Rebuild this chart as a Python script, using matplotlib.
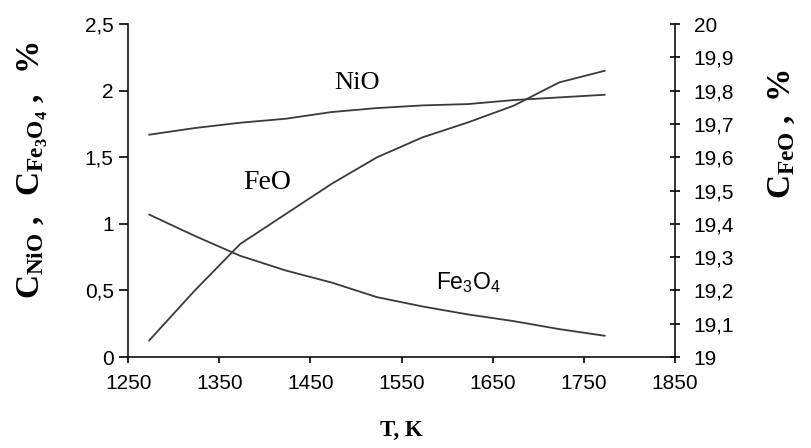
import numpy as np
import matplotlib
matplotlib.use('Agg')
import matplotlib.pyplot as plt

plt.rcParams['font.family'] = ['Liberation Sans', 'DejaVu Sans']
plt.rcParams['mathtext.fontset'] = 'custom'
plt.rcParams['mathtext.rm'] = 'Liberation Serif:bold'
plt.rcParams['mathtext.it'] = 'Liberation Serif:bold'
plt.rcParams['mathtext.bf'] = 'Liberation Serif:bold'
plt.rcParams['mathtext.sf'] = 'Liberation Sans'

# температура, K
T = [1273, 1323, 1373, 1423, 1473, 1523, 1573, 1623, 1673, 1723, 1773]
# левая ось, %
c_nio = [1.67, 1.72, 1.76, 1.79, 1.84, 1.87, 1.89, 1.90, 1.93, 1.95, 1.97]
c_fe3o4 = [1.07, 0.91, 0.76, 0.65, 0.56, 0.45, 0.38, 0.32, 0.27, 0.21, 0.16]
# правая ось, %
c_feo = [19.05, 19.20, 19.34, 19.43, 19.52, 19.60, 19.66, 19.705, 19.755, 19.825, 19.86]

x_ticks = [1250, 1350, 1450, 1550, 1650, 1750, 1850]
left_ticks = [0, 0.5, 1, 1.5, 2, 2.5]
left_labels = ['0', '0,5', '1', '1,5', '2', '2,5']
right_ticks = [19, 19.1, 19.2, 19.3, 19.4, 19.5, 19.6, 19.7, 19.8, 19.9, 20]
right_labels = ['19', '19,1', '19,2', '19,3', '19,4', '19,5', '19,6', '19,7', '19,8', '19,9', '20']

line_col = '#3a3a3a'

fig = plt.figure(figsize=(8.12, 4.48), dpi=100)
ax = fig.add_axes([0.158, 0.203, 0.673, 0.743])
ax2 = ax.twinx()

ax.plot(T, c_nio, color=line_col, lw=1.3)
ax.plot(T, c_fe3o4, color=line_col, lw=1.3)
ax2.plot(T, c_feo, color=line_col, lw=1.3)

ax.set_xlim(1250, 1850)
ax.set_ylim(0, 2.5)
ax2.set_ylim(19, 20)
ax.set_xticks(x_ticks)
ax.set_yticks(left_ticks)
ax.set_yticklabels(left_labels)
ax2.set_yticks(right_ticks)
ax2.set_yticklabels(right_labels)

for a in (ax, ax2):
    a.spines['top'].set_visible(False)
    for s in a.spines.values():
        s.set_linewidth(1.2)
        s.set_color('#111111')
ax.spines['right'].set_visible(False)
ax2.spines['left'].set_visible(False)
ax2.spines['bottom'].set_visible(False)

ax.tick_params(axis='y', direction='out', length=6.5, width=1.2, pad=4, labelsize=15)
ax.tick_params(axis='x', direction='out', length=4.5, width=1.2, pad=8, labelsize=15)
ax2.tick_params(axis='y', direction='inout', length=7, width=1.2, pad=10, labelsize=15)

ax.text(1501, 2.06, 'NiO', family='Liberation Serif', fontsize=19, ha='center', va='center')
ax.text(1402, 1.31, 'FeO', family='Liberation Serif', fontsize=20, ha='center', va='center')
ax.text(1623, 0.56, r'$\mathsf{Fe}_\mathsf{3}\mathsf{O}_\mathsf{4}$', fontsize=16.5, ha='center', va='center')

fig.text(0.494, 0.04, 'T, K', family='Liberation Serif', weight='bold',
         fontsize=16.5, ha='center', va='center')
fig.text(0.04, 0.62, r'$C_{NiO}\;,\;\; C_{Fe_3O_4}\;,\;\; \%$', fontsize=24,
         rotation=90, ha='center', va='center')
fig.text(0.963, 0.70, r'$C_{FeO}\;,\;\%$', fontsize=24,
         rotation=90, ha='center', va='center')

fig.savefig('out.png', dpi=100)
